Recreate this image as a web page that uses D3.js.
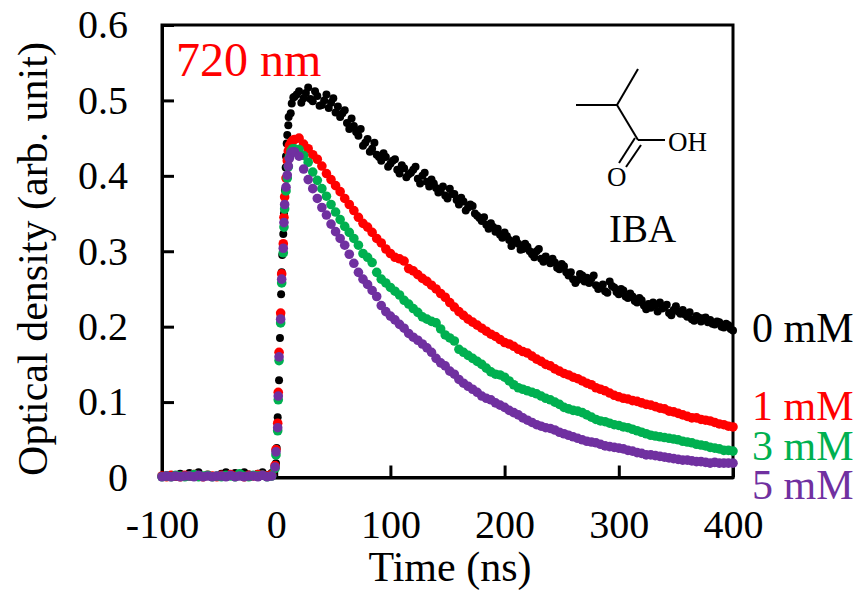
<!DOCTYPE html>
<html>
<head>
<meta charset="utf-8">
<script src="https://cdn.jsdelivr.net/npm/d3@7"></script>
<style>
	html, body { margin: 0; padding: 0; background: #fff; }
	svg { display: block; }
	text { font-family: "Liberation Serif", "Times New Roman", serif; }
</style>
</head>
<body>
<div id="chart"></div>
<script>
let width = 857, height = 591;
let padding = {top: 25, right: 124, bottom: 113.5, left: 162};

let xTicks = [-100, 0, 100, 200, 300, 400];
let yTicks = [0, 0.1, 0.2, 0.3, 0.4, 0.5, 0.6];

// sampling times (ns)
let preTimes = [-100, -96, -92, -88, -84, -80, -76, -72, -68, -64, -60, -56, -52, -48, -44, -40, -36, -32, -28, -24, -20, -16, -12, -8, -4];
let riseTimes0 = [-0.2, 0.4, 1.3, 2.5, 3.3, 3.9, 4.3, 4.8, 5.3, 6.2, 6.8, 7.7, 8.3, 8.6, 9.2, 9.7, 10.6, 10.9, 12.7, 13.6, 15];
let riseTimesMix = [-1, -0.2, 1.3, 1.8, 2.5, 3.9, 4.8, 6.2, 6.8, 7.4, 8.6, 9.7, 10.6, 11.5, 13, 14.5];
let decayTimes = [
	16, 20, 24, 28, 32, 36, 40, 44, 48, 52,
	56, 60, 64, 68, 72, 76, 80, 84, 88, 92,
	96, 100, 104, 108, 112, 116, 120, 124, 128, 132,
	136, 140, 144, 148, 152, 156, 160, 164, 168, 172,
	176, 180, 184, 188, 192, 196, 200, 204, 208, 212,
	216, 220, 224, 228, 232, 236, 240, 244, 248, 252,
	256, 260, 264, 268, 272, 276, 280, 284, 288, 292,
	296, 300, 304, 308, 312, 316, 320, 324, 328, 332,
	336, 340, 344, 348, 352, 356, 360, 364, 368, 372,
	376, 380, 384, 388, 392, 396, 400
];
let decayTimes0b = [
	18, 22, 26, 30, 34, 38, 42, 46, 50, 54,
	58, 62, 66, 70, 74, 78, 82, 86, 90, 94,
	98, 102, 106, 110, 114, 118, 122, 126, 130, 134,
	138, 142, 146, 150, 154, 158, 162, 166, 170, 174,
	178, 182, 186, 190, 194, 198, 202, 206, 210, 214,
	218, 222, 226, 230, 234, 238, 242, 246, 250, 254,
	258, 262, 266, 270, 274, 278, 282, 286, 290, 294,
	298, 302, 306, 310, 314, 318, 322, 326, 330, 334,
	338, 342, 346, 350, 354, 358, 362, 366, 370, 374,
	378, 382, 386, 390, 394, 398
];

// 0 mM
let pre0 = [.001, .003, .002, .001, .005, .002, .006, .003, .007, .002, .003, .001, .002, .005, .007, .003, .006, .002, .007, .004, .002, .005, .007, .003, .006];
let rise0 = [.019, .039, .080, .129, .185, .214, .243, .272, .295, .323, .350, .381, .411, .426, .443, .454, .467, .478, .483, .496, .504];
let decay0 = [
	.505, .512, .503, .517, .499, .506, .494, .508, .497, .484,
	.478, .487, .462, .466, .453, .440, .449, .436, .428, .420,
	.425, .416, .422, .403, .410, .402, .408, .396, .400, .392,
	.395, .384, .380, .374, .383, .376, .362, .366, .358, .360,
	.347, .340, .335, .337, .326, .322, .325, .315, .312, .310,
	.303, .306, .296, .300, .290, .293, .284, .285, .276, .280,
	.268, .263, .262, .268, .265, .264, .255, .252, .247, .260,
	.252, .243, .248, .238, .240, .232, .235, .223, .225, .228,
	.232, .226, .218, .222, .220, .222, .213, .210, .214, .207,
	.212, .209, .203, .206, .199, .202, .195
];
let decay0b = [
	.508, .497, .510, .502, .512, .493, .500, .490, .503, .492,
	.483, .470, .476, .458, .462, .444, .432, .444, .425, .430,
	.412, .420, .408, .414, .398, .404, .412, .390, .404, .386,
	.390, .378, .386, .370, .376, .368, .371, .354, .362, .350,
	.344, .345, .330, .332, .330, .318, .320, .307, .316, .302,
	.310, .300, .292, .303, .286, .288, .290, .278, .283, .272,
	.272, .258, .270, .260, .258, .268, .250, .256, .245, .254,
	.246, .250, .240, .244, .234, .238, .228, .230, .232, .220,
	.224, .229, .215, .227, .217, .216, .219, .208, .212, .211,
	.206, .204, .207, .200, .204, .197
];

// 1 mM
let pre1 = [.002, .001, .003, .002, .001, .003, .002, .004, .002, .001, .003, .002, .001, .003, .002, .004, .002, .003, .001, .003, .002, .004, .003, .002, .004];
let rise1 = [.016, .037, .072, .113, .166, .218, .270, .310, .345, .372, .397, .420, .433, .440, .444, .447];
let decay1 = [
	.448, .450, .442, .436, .428, .422, .413, .403, .395, .387,
	.379, .370, .362, .354, .345, .337, .332, .325, .317, .311,
	.303, .297, .292, .290, .287, .277, .274, .269, .264, .260,
	.255, .250, .244, .239, .232, .226, .220, .215, .210, .206,
	.202, .198, .194, .190, .187, .183, .179, .177, .174, .170,
	.167, .165, .161, .157, .154, .150, .148, .144, .141, .138,
	.136, .133, .131, .128, .125, .123, .119, .117, .115, .112,
	.109, .107, .105, .104, .102, .101, .099, .097, .096, .094,
	.092, .091, .088, .087, .085, .083, .081, .079, .079, .077,
	.076, .075, .073, .071, .070, .068, .067
];

// 3 mM
let pre3 = [.001, .002, .001, .003, .002, .001, .002, .004, .001, .002, .003, .001, .002, .001, .003, .002, .001, .005, .002, .001, .003, .002, .003, .001, .002];
let rise3 = [.012, .030, .062, .103, .155, .205, .258, .298, .332, .356, .380, .397, .412, .425, .433, .436];
let decay3 = [
	.436, .435, .427, .418, .405, .394, .383, .373, .362, .352,
	.342, .333, .325, .317, .308, .297, .292, .285, .272, .263,
	.258, .252, .247, .242, .235, .230, .224, .219, .213, .210,
	.207, .205, .197, .189, .185, .181, .170, .166, .162, .158,
	.154, .150, .145, .140, .137, .136, .133, .128, .123, .119,
	.117, .115, .113, .111, .108, .105, .103, .100, .097, .093,
	.091, .089, .088, .086, .083, .080, .077, .075, .074, .072,
	.070, .069, .067, .066, .064, .062, .060, .058, .056, .055,
	.054, .053, .052, .051, .050, .048, .047, .046, .044, .043,
	.042, .040, .039, .038, .036, .036, .035
];

// 5 mM
let pre5 = [.001, .002, .001, .002, .001, .002, .002, .001, .003, .001, .002, .001, .002, .002, .001, .003, .001, .002, .001, .002, .002, .001, .003, .001, .002];
let rise5 = [.014, .034, .066, .108, .160, .210, .263, .304, .338, .362, .385, .401, .413, .423, .430, .432];
let decay5 = [
	.432, .426, .409, .395, .383, .370, .358, .348, .336, .326,
	.317, .308, .296, .284, .272, .263, .256, .248, .240, .228,
	.220, .214, .209, .203, .198, .191, .186, .182, .177, .172,
	.166, .158, .152, .148, .141, .137, .130, .125, .121, .117,
	.113, .108, .105, .103, .099, .096, .093, .089, .086, .083,
	.079, .076, .073, .070, .068, .066, .065, .063, .060, .058,
	.056, .054, .052, .050, .048, .047, .046, .044, .042, .041,
	.040, .039, .038, .036, .035, .033, .032, .030, .030, .029,
	.028, .027, .026, .025, .024, .023, .023, .022, .021, .021,
	.020, .019, .020, .019, .019, .019, .019
];

let seriesNames = ["0 mM", "1 mM", "3 mM", "5 mM"];
let seriesColors = ["#000000", "#ff0000", "#00b050", "#7030a0"];

function zip(times, values) {
	return times.map((t, i) => ({t: t, v: values[i]}));
}

let series = [
	zip(preTimes.concat(riseTimes0, decayTimes, decayTimes0b), pre0.concat(rise0, decay0, decay0b)),
	zip(preTimes.concat(riseTimesMix, decayTimes), pre1.concat(rise1, decay1)),
	zip(preTimes.concat(riseTimesMix, decayTimes), pre3.concat(rise3, decay3)),
	zip(preTimes.concat(riseTimesMix, decayTimes), pre5.concat(rise5, decay5))
];
let dotRadius = [4, 4.8, 4.8, 4.8];
let labelBaseline = [342, 420, 460, 499];

let svg = d3.select("#chart").append("svg")
	.attr("width", width)
	.attr("height", height);

let xScale = d3.scaleLinear()
	.domain([-100, 400])
	.range([padding.left, width - padding.right]);

let yScale = d3.scaleLinear()
	.domain([0, 0.6])
	.range([height - padding.bottom, padding.top]);

let xAxis = d3.axisBottom(xScale)
	.tickValues(xTicks)
	.tickFormat(d => d)
	.tickSizeInner(-12)
	.tickSizeOuter(0)
	.tickPadding(32);

let yAxis = d3.axisLeft(yScale)
	.tickValues(yTicks)
	.tickFormat(d => d)
	.tickSizeInner(-12)
	.tickSizeOuter(0)
	.tickPadding(34);

svg.append("g")
	.attr("class", "x axis")
	.attr("transform", "translate(0," + (height - padding.bottom) + ")")
	.call(xAxis);

svg.append("g")
	.attr("class", "y axis")
	.attr("transform", "translate(" + padding.left + ",0)")
	.call(yAxis);

svg.selectAll(".axis line").attr("stroke", "#000").attr("stroke-width", 3);
svg.selectAll(".axis .domain").attr("stroke", "#000").attr("stroke-width", 3);
svg.selectAll(".axis text").attr("fill", "#000").style("font-size", "40px").style("font-family", '"Liberation Serif", serif');

svg.append("rect")
	.attr("x", padding.left)
	.attr("y", padding.top)
	.attr("width", width - padding.left - padding.right)
	.attr("height", height - padding.top - padding.bottom)
	.attr("fill", "none")
	.attr("stroke", "#000")
	.attr("stroke-width", 3);

// the points sit on top of the frame, as they do at both ends of the time range
series.forEach(function (pts, i) {
	svg.append("g")
		.attr("class", "series")
		.selectAll("circle")
		.data(pts)
		.enter()
		.append("circle")
		.attr("cx", d => xScale(d.t))
		.attr("cy", d => yScale(d.v))
		.attr("r", dotRadius[i])
		.attr("fill", seriesColors[i]);
});

// axis titles
svg.append("text")
	.attr("x", 450)
	.attr("y", 581)
	.style("text-anchor", "middle")
	.style("font-size", "42px")
	.text("Time (ns)");

svg.append("text")
	.attr("transform", "translate(47,259) rotate(-90)")
	.style("text-anchor", "middle")
	.style("font-size", "42px")
	.text("Optical density (arb. unit)");

svg.append("text")
	.attr("x", 176)
	.attr("y", 76)
	.attr("fill", "#ff0000")
	.style("font-size", "48px")
	.text("720 nm");

seriesNames.forEach(function (name, i) {
	svg.append("text")
		.attr("x", 752)
		.attr("y", labelBaseline[i])
		.attr("fill", seriesColors[i])
		.style("font-size", "42px")
		.text(name);
});

// isobutyric acid structure
let bonds = [
	[576, 105, 617, 105],
	[617, 105, 638, 69],
	[617, 105, 638, 140],
	[638, 140, 665, 140],
	[635, 138, 619, 163],
	[641, 145, 626, 167]
];

svg.append("g")
	.attr("class", "molecule")
	.selectAll("line")
	.data(bonds)
	.enter()
	.append("line")
	.attr("x1", d => d[0])
	.attr("y1", d => d[1])
	.attr("x2", d => d[2])
	.attr("y2", d => d[3])
	.attr("stroke", "#000")
	.attr("stroke-width", 2);

svg.append("text").attr("x", 668).attr("y", 151).style("font-size", "27px").text("OH");
svg.append("text").attr("x", 607).attr("y", 186).style("font-size", "27px").text("O");
svg.append("text").attr("x", 609).attr("y", 242).style("font-size", "39px").text("IBA");
</script>
</body>
</html>
